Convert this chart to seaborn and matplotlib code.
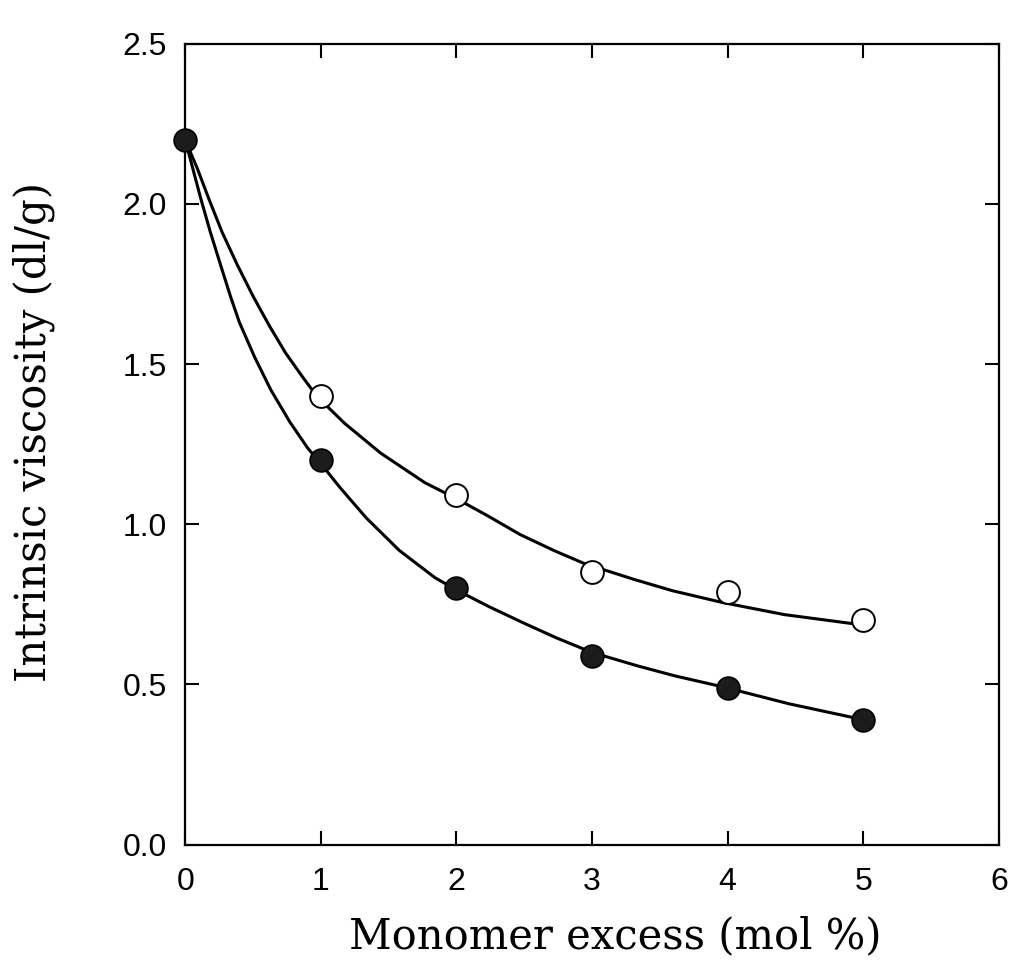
"""
Intrinsic viscosity vs monomer excess (mol %)
Two series: filled circles and open circles, each with a smooth hand-drawn curve.
"""

import pandas as pd
import matplotlib
matplotlib.use("Agg")
import matplotlib.pyplot as plt
import seaborn as sns

# ─────────────────────────────────────────────
# DATA
# ─────────────────────────────────────────────
# measured points
x_filled = [0.0, 1.0, 2.0, 3.0, 4.0, 5.0]
y_filled = [2.20, 1.20, 0.80, 0.59, 0.49, 0.39]

x_open = [1.0, 2.0, 3.0, 4.0, 5.0]
y_open = [1.40, 1.09, 0.85, 0.79, 0.70]

# fitted curves
x_curve_low = [0.0, 0.116, 0.184, 0.259, 0.335, 0.40, 0.512, 0.631, 0.772,
               0.905, 0.98, 1.143, 1.335, 1.58, 1.843, 2.0, 2.24, 2.49,
               2.74, 3.0, 3.336, 3.61, 3.98, 4.45, 5.0]
y_curve_low = [2.20, 2.015, 1.914, 1.812, 1.71, 1.63, 1.522, 1.42, 1.319,
               1.237, 1.20, 1.114, 1.02, 0.918, 0.833, 0.795, 0.743, 0.693,
               0.645, 0.60, 0.558, 0.527, 0.491, 0.44, 0.39]

x_curve_up = [0.0, 0.09, 0.175, 0.272, 0.384, 0.503, 0.62, 0.74, 0.857,
              0.97, 1.176, 1.442, 1.767, 2.0, 2.216, 2.47, 2.72, 2.94,
              3.31, 3.59, 3.96, 4.42, 4.92]
y_curve_up = [2.20, 2.11, 2.015, 1.912, 1.81, 1.71, 1.62, 1.535, 1.465,
              1.40, 1.315, 1.222, 1.13, 1.08, 1.03, 0.968, 0.918, 0.878,
              0.828, 0.793, 0.756, 0.718, 0.69]

x_ticks = [0, 1, 2, 3, 4, 5, 6]
y_ticks = [0.0, 0.5, 1.0, 1.5, 2.0, 2.5]

# ─────────────────────────────────────────────
# STYLE
# ─────────────────────────────────────────────
sns.set_style("ticks")
plt.rcParams["font.family"] = ["Liberation Sans", "DejaVu Sans"]
plt.rcParams["text.color"] = "black"
plt.rcParams["xtick.color"] = "black"
plt.rcParams["ytick.color"] = "black"
plt.rcParams["axes.labelcolor"] = "black"

fig = plt.figure(figsize=(10.12, 9.72), dpi=100)
ax = fig.add_axes([0.183, 0.131, 0.804, 0.824])

df_low = pd.DataFrame({"x": x_curve_low, "y": y_curve_low})
df_up = pd.DataFrame({"x": x_curve_up, "y": y_curve_up})
sns.lineplot(data=df_low, x="x", y="y", ax=ax, color="black", linewidth=2.2,
             sort=False, estimator=None)
sns.lineplot(data=df_up, x="x", y="y", ax=ax, color="black", linewidth=2.2,
             sort=False, estimator=None)

df_f = pd.DataFrame({"x": x_filled, "y": y_filled})
df_o = pd.DataFrame({"x": x_open, "y": y_open})
sns.scatterplot(data=df_f, x="x", y="y", ax=ax, s=270, color="#1c1c1c",
                edgecolor="black", linewidth=1.2, zorder=5, clip_on=False)
sns.scatterplot(data=df_o, x="x", y="y", ax=ax, s=270, color="white",
                edgecolor="black", linewidth=1.4, zorder=5, clip_on=False)

ax.set_xlim(0, 6)
ax.set_ylim(0, 2.5)
ax.set_xticks(x_ticks)
ax.set_yticks(y_ticks)
ax.set_xticklabels([str(t) for t in x_ticks])
ax.set_yticklabels([f"{t:.1f}" for t in y_ticks])

ax.tick_params(axis="both", direction="in", length=10, width=1.5,
               labelsize=23, top=True, right=True, colors="black")
ax.tick_params(axis="x", labeltop=False, pad=16)
ax.tick_params(axis="y", labelright=False, pad=13)
for sp in ax.spines.values():
    sp.set_linewidth(1.6)
    sp.set_color("black")

ax.set_xlabel("Monomer excess (mol %)", family="DejaVu Serif", fontsize=30)
ax.set_ylabel("Intrinsic viscosity (dl/g)", family="DejaVu Serif", fontsize=30)
ax.xaxis.set_label_coords(0.529, -0.088)
ax.yaxis.set_label_coords(-0.16, 0.515)
ax.xaxis.label.set_va("top")

fig.savefig("out.png", dpi=100)
